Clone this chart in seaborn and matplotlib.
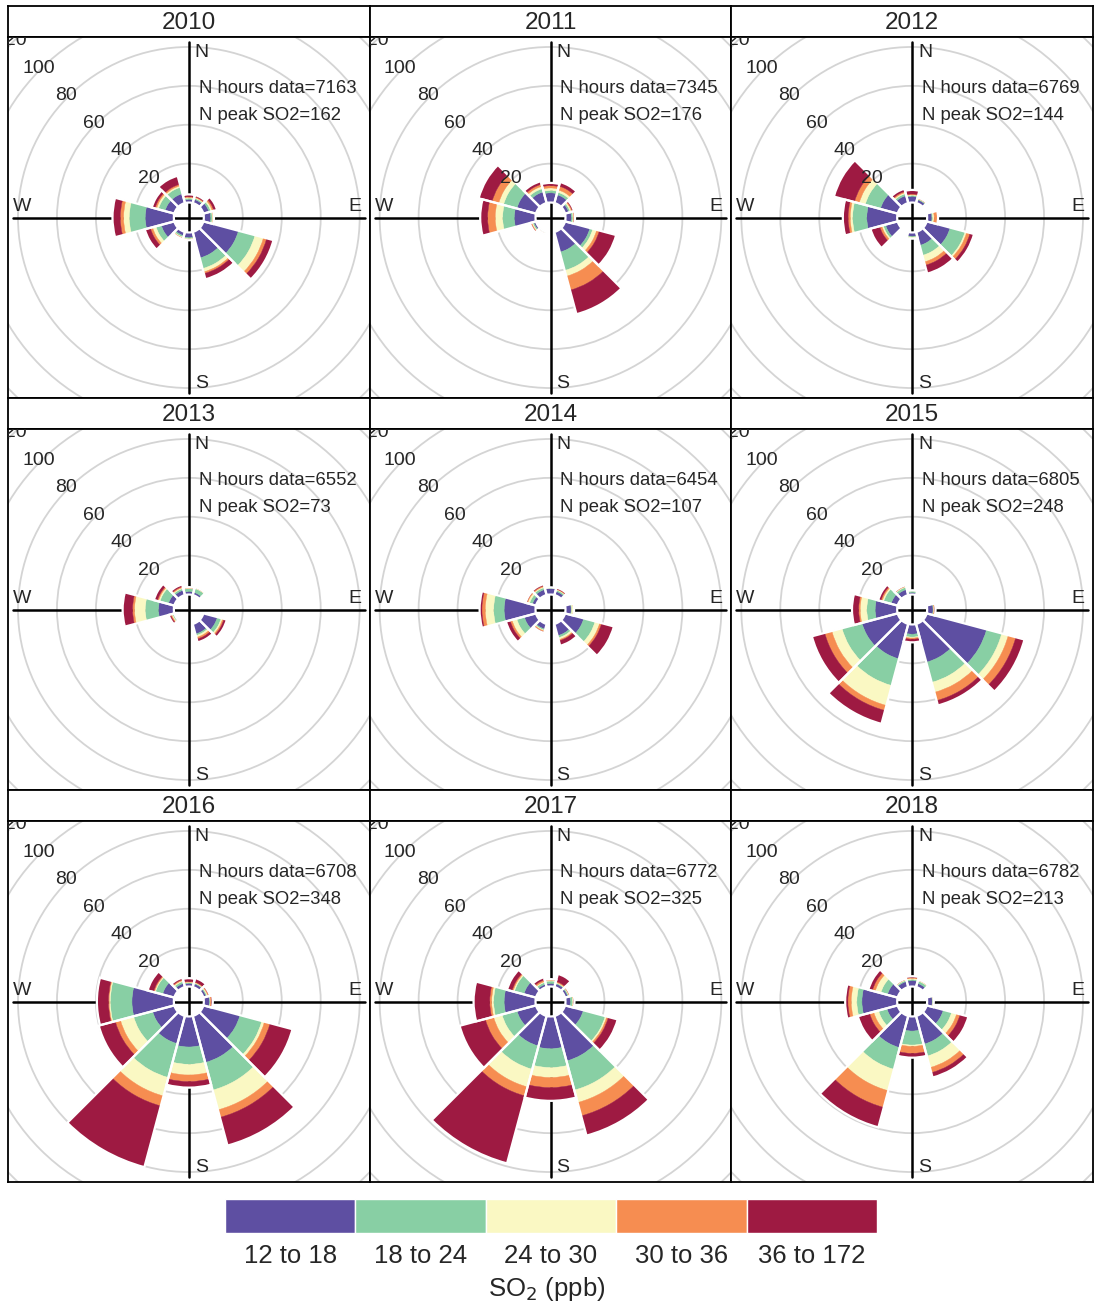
import numpy as np
import seaborn as sns
import matplotlib
matplotlib.use("Agg")
import matplotlib.pyplot as plt
from matplotlib.patches import Wedge, Circle
from matplotlib import font_manager

# ---------------- data ----------------
years = ["2010", "2011", "2012", "2013", "2014", "2015", "2016", "2017", "2018"]
hours = [7163, 7345, 6769, 6552, 6454, 6805, 6708, 6772, 6782]
peaks = [162, 176, 144, 73, 107, 248, 348, 325, 213]
directions = [0, 30, 60, 90, 120, 150, 180, 210, 240, 270, 300, 330]
bins = ["12 to 18", "18 to 24", "24 to 30", "30 to 36", "36 to 172"]
bin_colors = ["#5E4FA2", "#88CFA4", "#FAF8C3", "#F68D51", "#9E1A42"]
radial_ticks = [20, 40, 60, 80, 100, 120, 140]

# cumulative (stacked) value at the outer edge of each band, per direction
c2010 = [[1.5, 2.2, 2.6, 3.0, 4.2], [2.0, 2.6, 3.0, 3.4, 4.3], [3.0, 4.0, 4.8, 5.6, 7.3],
         [3.5, 4.3, 4.7, 5.0, 5.2], [18.7, 27.5, 32.0, 33.7, 37.3], [13.9, 19.5, 21.3, 22.2, 25.2],
         [2.6, 3.2, 3.5, 3.8, 4.0], [2.0, 2.8, 3.2, 3.5, 3.8], [7.0, 9.8, 11.6, 12.8, 15.7],
         [14.7, 22.9, 25.8, 27.5, 31.5], [5.0, 8.5, 9.5, 10.3, 12.0], [5.0, 8.4, 9.2, 10.0, 14.5]]
c2011 = [[5.0, 6.2, 7.5, 8.7, 10.1], [4.5, 5.8, 7.0, 9.0, 11.2], [2.0, 2.8, 3.5, 4.0, 4.8],
         [3.0, 3.8, 4.2, 4.5, 4.9], [13.3, 14.8, 16.9, 18.3, 27.2], [10.8, 20.5, 23.6, 31.0, 43.8],
         [0, 0, 0, 0, 0], [0.5, 0.7, 0.9, 1.0, 1.2], [1.2, 1.8, 2.3, 2.7, 3.2],
         [10.9, 16.9, 20.7, 24.6, 28.4], [10.2, 17.3, 19.9, 23.4, 30.5], [6.0, 7.7, 8.9, 10.0, 11.6]]
c2012 = [[3.1, 3.6, 4.0, 4.4, 6.5], [1.8, 2.2, 2.4, 2.6, 2.9], [0, 0, 0, 0, 0],
         [2.4, 2.8, 3.6, 5.4, 5.6], [12.5, 20.4, 21.3, 23.1, 25.2], [7.2, 12.5, 16.0, 17.8, 22.2],
         [2.0, 2.4, 3.0, 3.1, 3.2], [0, 0, 0, 0, 0], [6.5, 7.7, 8.5, 9.6, 14.5],
         [15.6, 22.9, 24.1, 25.2, 27.9], [9.2, 17.3, 20.5, 23.0, 33.9], [4.0, 5.0, 5.6, 6.2, 7.6]]
c2013 = [[1.5, 3.0, 3.3, 3.5, 3.8], [1.5, 3.5, 3.8, 4.0, 4.2], [0, 0, 0, 0, 0],
         [0, 0, 0, 0, 0], [7.5, 9.5, 10.3, 11.0, 12.5], [5.4, 6.2, 7.2, 8.1, 9.8],
         [0, 0, 0, 0, 0], [0, 0, 0, 0, 0], [0.5, 1.0, 1.5, 2.0, 3.0],
         [7.9, 14.7, 20.2, 21.2, 26.3], [3.2, 7.7, 8.5, 9.1, 10.9], [2.6, 3.5, 4.0, 4.5, 5.6]]
c2014 = [[3.2, 3.4, 3.5, 3.6, 3.7], [2.0, 2.7, 3.0, 3.3, 4.0], [0, 0, 0, 0, 0],
         [2.9, 3.2, 4.0, 4.2, 4.4], [10.0, 16.0, 18.5, 19.5, 26.0], [6.3, 7.4, 8.4, 9.0, 11.6],
         [0, 0, 0, 0, 0], [2.8, 3.4, 3.8, 4.4, 4.8], [6.3, 10.3, 12.8, 13.8, 16.0],
         [16.1, 21.5, 25.8, 27.5, 28.7], [2.0, 3.5, 4.5, 5.0, 5.5], [3.0, 4.0, 4.5, 5.0, 5.8]]
c2015 = [[1.0, 1.8, 2.0, 2.1, 2.2], [0, 0, 0, 0, 0], [0, 0, 0, 0, 0],
         [3.0, 3.3, 3.5, 3.8, 4.3], [31.9, 39.9, 43.4, 47.4, 52.0], [20.4, 31.1, 36.4, 40.8, 43.4],
         [5.0, 6.5, 7.0, 7.6, 9.2], [18.6, 32.8, 43.4, 46.1, 53.2], [19.0, 29.6, 35.0, 38.8, 45.6],
         [11.3, 15.6, 19.0, 19.8, 23.2], [3.5, 7.5, 8.3, 9.0, 10.4], [3.0, 4.2, 4.6, 4.8, 5.2]]
c2016 = [[1.5, 2.0, 2.3, 2.6, 4.3], [1.8, 2.2, 2.5, 2.8, 4.8], [1.5, 2.0, 2.5, 3.0, 3.5],
         [3.0, 3.2, 3.4, 4.0, 4.6], [19.5, 31.1, 32.5, 35.5, 47.4], [24.8, 39.5, 50.0, 54.0, 69.0],
         [15.7, 24.6, 30.1, 33.5, 36.6], [14.8, 32.8, 42.6, 47.9, 80.5], [11.6, 21.7, 28.7, 31.4, 40.2],
         [21.5, 32.6, 33.2, 33.6, 39.5], [6.3, 10.1, 10.6, 11.1, 14.2], [2.0, 3.0, 3.5, 4.0, 5.0]]
c2017 = [[1.5, 2.8, 3.2, 3.5, 3.8], [1.8, 2.2, 2.5, 3.0, 7.0], [1.5, 2.0, 2.3, 2.6, 3.0],
         [2.5, 3.6, 4.0, 4.2, 4.6], [9.8, 21.4, 22.2, 23.1, 28.0], [24.0, 39.5, 46.1, 53.2, 63.7],
         [16.6, 26.3, 31.4, 36.6, 43.4], [16.0, 28.4, 37.8, 42.6, 78.5], [10.2, 18.1, 22.6, 27.0, 40.6],
         [16.1, 21.5, 22.5, 23.5, 31.8], [6.5, 11.5, 12.2, 12.8, 15.4], [1.5, 2.5, 3.0, 3.8, 5.2]]
c2018 = [[3.0, 3.6, 4.2, 4.6, 5.3], [2.0, 3.2, 3.6, 3.8, 4.0], [0, 0, 0, 0, 0],
         [2.6, 3.0, 3.1, 3.2, 3.4], [8.9, 13.3, 16.0, 17.8, 22.2], [15.1, 21.4, 27.5, 30.2, 32.8],
         [7.5, 14.7, 15.4, 19.0, 21.2], [16.9, 28.4, 39.8, 48.7, 59.3], [5.8, 10.2, 12.8, 15.0, 21.2],
         [18.1, 20.7, 23.6, 25.3, 26.7], [5.5, 9.0, 12.0, 13.5, 15.6], [3.0, 3.6, 4.0, 4.2, 4.5]]
cum_by_year = [c2010, c2011, c2012, c2013, c2014, c2015, c2016, c2017, c2018]

# ---------------- style ----------------
sns.set_theme(style="white")
plt.rcParams['font.family'] = ['Liberation Sans', 'DejaVu Sans']
palette = sns.color_palette(bin_colors)

names = {f.name for f in font_manager.fontManager.ttflist}
if 'Liberation Sans Narrow' in names:
    leg_family, leg_size = ['Liberation Sans Narrow', 'Liberation Sans'], 22
else:
    leg_family, leg_size = ['Liberation Sans', 'DejaVu Sans'], 18.5

W, H = 1094, 1305
fig = plt.figure(figsize=(W / 100, H / 100), dpi=100)

PX = 1.95          # pixels per unit
OFF = 15 / PX      # central hole
HALF = 181 / PX    # half panel width in units
AX_LEN = 176 / PX  # compass line half-length

def fx(x): return x / W
def fy(y): return 1 - y / H

col_w = (1093 - 8) / 3.0
for k, yr in enumerate(years):
    r, c = divmod(k, 3)
    x0 = 8 + c * col_w
    top = 6 + r * 392
    # strip
    sax = fig.add_axes([fx(x0), fy(top + 31), col_w / W, 31 / H])
    sax.set_xticks([]); sax.set_yticks([])
    for s in sax.spines.values():
        s.set_color('black'); s.set_linewidth(1.3)
    sax.text(0.5, 0.45, yr, ha='center', va='center', fontsize=17.5, transform=sax.transAxes)
    # panel
    ax = fig.add_axes([fx(x0), fy(top + 31 + 361), col_w / W, 361 / H])
    ax.set_xlim(-HALF, HALF); ax.set_ylim(-HALF, HALF)
    ax.set_xticks([]); ax.set_yticks([])
    for s in ax.spines.values():
        s.set_color('black'); s.set_linewidth(1.3)
    for v in radial_ticks:
        ax.add_patch(Circle((0, 0), OFF + v, fill=False, ec='#d4d4d4', lw=1.3, zorder=1))
    ax.plot([-AX_LEN, AX_LEN], [0, 0], color='black', lw=1.8, zorder=2)
    ax.plot([0, 0], [-AX_LEN, AX_LEN], color='black', lw=1.8, zorder=2)

    cum = cum_by_year[k]
    for d, vals in zip(directions, cum):
        if vals[-1] <= 0:
            continue
        a = 90 - d
        prev = 0.0
        for b, v in enumerate(vals):
            if v > prev:
                ax.add_patch(Wedge((0, 0), OFF + v, a - 15, a + 15, width=v - prev,
                                   fc=palette[b], ec=palette[b], lw=0.3, zorder=3))
            prev = v
        ax.add_patch(Wedge((0, 0), OFF + vals[-1], a - 15, a + 15, width=vals[-1],
                           fill=False, ec='white', lw=1.6, zorder=4))

    for v in radial_ticks[:6]:
        rr = (OFF + v) / np.sqrt(2)
        ax.text(-rr - 1.0, rr + 0.5, str(v), ha='center', va='center', fontsize=14, zorder=5,
                clip_on=True)
    ax.text(3, 85, 'N', ha='left', va='center', fontsize=14, zorder=5)
    ax.text(3, -85.6, 'S', ha='left', va='center', fontsize=14, zorder=5)
    ax.text(-85.6, 5.6, 'W', ha='center', va='center', fontsize=14, zorder=5)
    ax.text(85, 5.6, 'E', ha='center', va='center', fontsize=14, zorder=5)
    ax.text(5, 66.3, f'N hours data={hours[k]}', ha='left', va='center', fontsize=13.3, zorder=5)
    ax.text(5, 52.2, f'N peak SO2={peaks[k]}', ha='left', va='center', fontsize=13.3, zorder=5)

# legend colour key
lax = fig.add_axes([fx(225), fy(1233), (877 - 225) / W, 34 / H])
lax.bar(range(len(bins)), [1] * len(bins), width=1.0, color=palette, align='edge')
lax.set_xlim(0, len(bins)); lax.set_ylim(0, 1)
lax.axis('off')
for i, lab in enumerate(bins):
    x = 225 + (i + 0.5) * (877 - 225) / len(bins)
    fig.text(fx(x), fy(1256), lab, ha='center', va='center', fontsize=leg_size, family=leg_family)
fig.text(fx(547), fy(1289), 'SO$_2$ (ppb)', ha='center', va='center', fontsize=leg_size,
         family=leg_family)

fig.savefig('out.png', dpi=100, facecolor='white')
